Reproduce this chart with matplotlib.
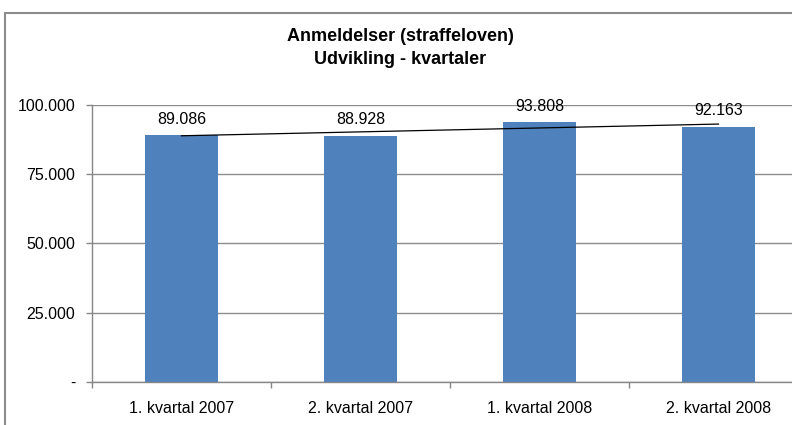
import matplotlib
matplotlib.use("Agg")
import matplotlib.pyplot as plt
from matplotlib.patches import Rectangle
import numpy as np

plt.rcParams['font.family'] = ['Liberation Sans', 'DejaVu Sans']

categories = ["1. kvartal 2007", "2. kvartal 2007", "1. kvartal 2008", "2. kvartal 2008"]
values = [89086, 88928, 93808, 92163]
value_labels = ["89.086", "88.928", "93.808", "92.163"]
yticks = [0, 25000, 50000, 75000, 100000]
ytick_labels = ["-", "25.000", "50.000", "75.000", "100.000"]
title = "Anmeldelser (straffeloven)\nUdvikling - kvartaler"

fig = plt.figure(figsize=(7.92, 4.25), dpi=100)
ax = fig.add_axes([92/792, 1-381.7/425, 716/792, (381.7-105)/425])

x = np.arange(len(categories))
ax.bar(x, values, width=0.41, color="#4F81BD", zorder=2)

# linear trend line
coef = np.polyfit(x, values, 1)
ax.plot([x[0], x[-1]], np.polyval(coef, [x[0], x[-1]]), color="black", lw=0.9, zorder=3)

for xi, v, lab in zip(x, values, value_labels):
    ax.text(xi, v + 3000, lab, ha="center", va="bottom", fontsize=11.5, zorder=4)

ax.set_xlim(-0.5, len(categories) - 0.5)
ax.set_ylim(0, 100000)
ax.set_yticks(yticks)
ax.set_yticklabels(ytick_labels, fontsize=11.5)
ax.set_xticks(x)
ax.set_xticklabels(categories, fontsize=11.5)
ax.tick_params(axis="x", length=0, pad=14)
ax.set_xticks(np.arange(-0.5, len(categories), 1.0), minor=True)
ax.tick_params(axis="x", which="minor", length=4, color="#868686", width=1)
ax.tick_params(axis="y", length=4, color="#868686", width=1, pad=8)
ax.yaxis.grid(True, color="#8c8c8c", lw=1, zorder=0)
for s in ["top", "right"]:
    ax.spines[s].set_visible(False)
for s in ["left", "bottom"]:
    ax.spines[s].set_color("#868686")
    ax.spines[s].set_linewidth(1)

fig.text(400/792, 1-48/425, title, ha="center", va="center", fontsize=13, fontweight="bold", linespacing=1.45)

fig.patches.append(Rectangle((5/792, -0.05), 1.1, 1-13/425 + 0.05, transform=fig.transFigure,
                             fill=False, edgecolor="#8c8c8c", lw=1.5, zorder=10))

fig.savefig("out.png", dpi=100)
